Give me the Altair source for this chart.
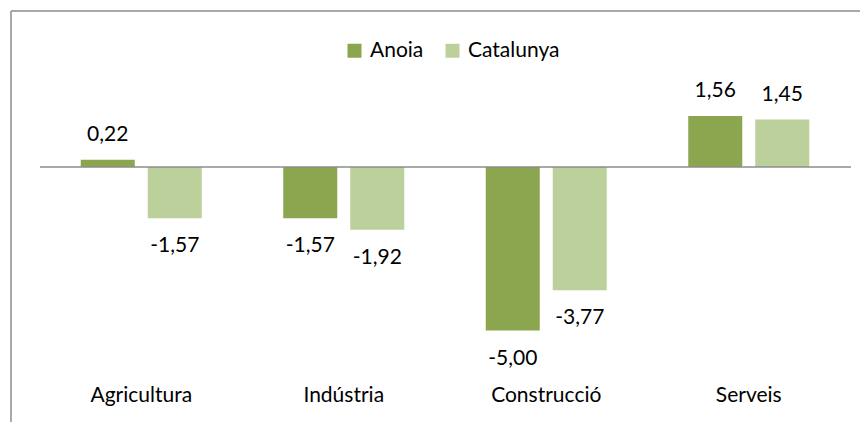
import altair as alt
import pandas as pd

categories = ["Agricultura", "Indústria", "Construcció", "Serveis"]
series = ["Anoia", "Catalunya"]
anoia = [0.22, -1.57, -5.00, 1.56]
catalunya = [-1.57, -1.92, -3.77, 1.45]
colors = ["#8BA64F", "#BBD09A"]

rows = []
for i, c in enumerate(categories):
    for s, vals in zip(series, [anoia, catalunya]):
        v = vals[i]
        rows.append({"cat": c, "serie": s, "val": v,
                     "label": f"{v:.2f}".replace(".", ",")})
df = pd.DataFrame(rows)

W, H = 852, 414
FONT = "Lato"
FS = 21

xscale = alt.Scale(domain=categories, range=[32, 842], paddingInner=0, paddingOuter=0)
xoff = alt.Scale(domain=series, paddingInner=0.194, paddingOuter=0.608)
yscale = alt.Scale(domain=[-6, 4], range=[355.2, 28.2], nice=False, zero=False)

base = alt.Chart(df)

xenc = alt.X("cat:N", scale=xscale, sort=categories,
             axis=alt.Axis(title=None, orient="bottom", offset=-27, domain=False,
                           ticks=False, labelAngle=0, labelBaseline="middle",
                           labelPadding=0, labelFontSize=FS, labelFont=FONT,
                           labelColor="#000000"))
xo = alt.XOffset("serie:N", scale=xoff, sort=series)
yenc = alt.Y("val:Q", scale=yscale, axis=None)

bars = base.mark_bar().encode(
    x=xenc, xOffset=xo, y=yenc, y2=alt.datum(0),
    color=alt.Color("serie:N", sort=series,
                    scale=alt.Scale(domain=series, range=colors),
                    legend=alt.Legend(orient="none", legendX=336, legendY=32,
                                      direction="horizontal", title=None,
                                      symbolType="square", symbolSize=196,
                                      symbolStrokeWidth=0, symbolOpacity=1,
                                      labelFontSize=FS, labelFont=FONT,
                                      labelColor="#000000",
                                      labelOffset=5, columnPadding=18)),
)

pos = base.transform_filter("datum.val >= 0").mark_text(
    dy=-25, fontSize=FS, font=FONT, baseline="middle", color="#000000"
).encode(x=xenc, xOffset=xo, y=yenc, text="label:N")

neg = base.transform_filter("datum.val < 0").mark_text(
    dy=28, fontSize=FS, font=FONT, baseline="middle", color="#000000"
).encode(x=xenc, xOffset=xo, y=yenc, text="label:N")

zero = alt.Chart(pd.DataFrame({"z": [0]})).mark_rule(
    color="#8C8C8C", strokeWidth=1.5
).encode(y=alt.Y("z:Q", scale=yscale, axis=None), x=alt.value(32), x2=alt.value(843))

frame_top = alt.Chart(pd.DataFrame({"a": [0]})).mark_rule(
    color="#8C8C8C", strokeWidth=1.5
).encode(x=alt.value(3), x2=alt.value(W), y=alt.value(3))

frame_left = alt.Chart(pd.DataFrame({"a": [0]})).mark_rule(
    color="#8C8C8C", strokeWidth=1.5
).encode(x=alt.value(3), y=alt.value(3), y2=alt.value(H))

chart = alt.layer(frame_top, frame_left, bars, zero, pos, neg).properties(
    width=W, height=H, autosize=alt.AutoSizeParams(type="none"), padding=0,
    background="white"
).configure_view(stroke=None)

chart.save("out.html", embed_options={"renderer": "svg", "actions": False})
